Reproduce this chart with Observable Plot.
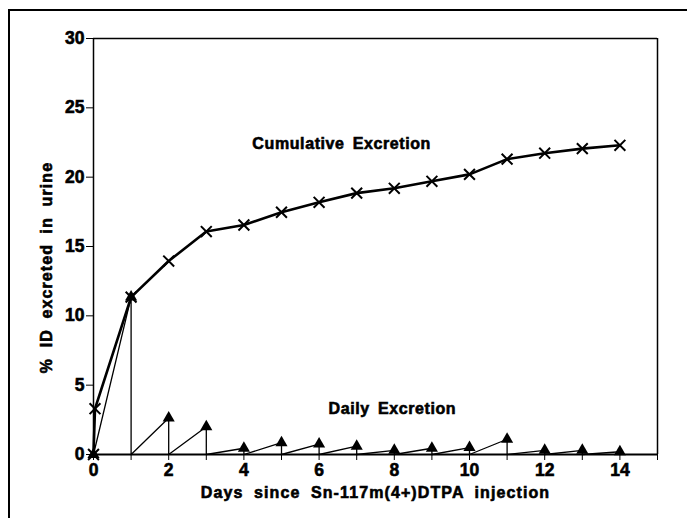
<!DOCTYPE html>
<html>
<head>
<meta charset="utf-8">
<script src="https://cdn.jsdelivr.net/npm/d3@7"></script>
<script src="https://cdn.jsdelivr.net/npm/@observablehq/plot@0.6"></script>
<style>
  html, body { margin: 0; padding: 0; background: #fff; }
  #wrap { position: relative; width: 687px; height: 518px; overflow: hidden; }
  #border { position: absolute; left: 8px; top: 9px; right: -4px; bottom: -4px;
            border-left: 2px solid #000; border-top: 2px solid #000; pointer-events: none; }
  svg text { font-weight: bold; stroke: #000; stroke-width: 0.6px; }
  g.axis-title text { letter-spacing: 1.1px; word-spacing: 5px; }
  g.note text { letter-spacing: 0.6px; word-spacing: 3px; }
</style>
</head>
<body>
<div id="wrap"><div id="border"></div></div>
<script>
// ---- data ----
const days = [1, 2, 3, 4, 5, 6, 7, 8, 9, 10, 11, 12, 13, 14];
const cumulative = [11.35, 13.95, 16.08, 16.55, 17.47, 18.19, 18.85, 19.2, 19.7, 20.2, 21.3, 21.73, 22.06, 22.3];
const earlyDays = [0, 0.04];
const earlyCumulative = [0, 3.3];
const daily = [11.35, 2.63, 2.0, 0.45, 0.85, 0.75, 0.6, 0.3, 0.45, 0.5, 1.1, 0.3, 0.3, 0.2];
const xTickValues = [0, 1, 2, 3, 4, 5, 6, 7, 8, 9, 10, 11, 12, 13, 14, 15];
const xTickLabels = ["0", "", "2", "", "4", "", "6", "", "8", "", "10", "", "12", "", "14", ""];
const yTicks = [0, 5, 10, 15, 20, 25, 30];
const xTitle = "Days since Sn-117m(4+)DTPA injection";
const yTitle = "% ID excreted in urine";
const annotations = ["Cumulative Excretion", "Daily Excretion"];
const annotationDays = [6.6, 7.95];
const annotationValues = [22.4, 3.3];

// ---- tables built from the arrays ----
const cumData = earlyDays.map((x, i) => ({x, y: earlyCumulative[i]}))
  .concat(days.map((d, i) => ({x: d, y: cumulative[i]})));
const saw = [{x: 0, y: 0}];
days.forEach((d, i) => { saw.push({x: d, y: daily[i]}); saw.push({x: d, y: 0}); });
const dailyPts = [{x: 0, y: 0}].concat(days.map((d, i) => ({x: d, y: daily[i]})));
const notes = annotations.map((t, i) => ({t, x: annotationDays[i], y: annotationValues[i]}));
const xMax = xTickValues[xTickValues.length - 1];
const yMax = yTicks[yTicks.length - 1];

const chart = Plot.plot({
  width: 687,
  height: 518,
  marginLeft: 93,
  marginRight: 30,
  marginTop: 38,
  marginBottom: 64,
  style: {fontFamily: "Liberation Sans, Arial, sans-serif", fontSize: "17.5px", color: "#000", background: "transparent"},
  x: {
    domain: [0, xMax],
    ticks: xTickValues,
    tickFormat: (d) => xTickLabels[xTickValues.indexOf(d)],
    tickSize: 6,
    tickPadding: 3,
    label: null
  },
  y: {
    domain: [0, yMax],
    ticks: yTicks,
    tickSize: 7,
    tickPadding: 2,
    label: null
  },
  marks: [
    Plot.ruleY([yMax], {strokeWidth: 1.5}),
    Plot.ruleX([xMax], {strokeWidth: 1.5}),
    Plot.ruleY([0], {strokeWidth: 1.8}),
    Plot.ruleX([0], {strokeWidth: 1.5}),
    Plot.line(saw, {x: "x", y: "y", stroke: "#000", strokeWidth: 1.3}),
    Plot.line(cumData, {x: "x", y: "y", stroke: "#000", strokeWidth: 2.6}),
    Plot.dot(cumData, {x: "x", y: "y", symbol: "times", r: 5, stroke: "#000", strokeWidth: 2}),
    Plot.dot(dailyPts, {x: "x", y: "y", symbol: "triangle", r: 4.5, fill: "#000", stroke: "none"}),
    Plot.text(notes, {x: "x", y: "y", text: "t", fontSize: 16, fontWeight: "bold", fill: "#000", className: "note"}),
    Plot.text([xTitle], {frameAnchor: "bottom", textAnchor: "middle", dy: 43, fontSize: 16, fill: "#000", className: "axis-title"}),
    Plot.text([yTitle], {frameAnchor: "left", textAnchor: "middle", rotate: -90, dx: -47, dy: 21, fontSize: 16, fill: "#000", className: "axis-title"})
  ]
});
document.getElementById("wrap").prepend(chart);
</script>
</body>
</html>
